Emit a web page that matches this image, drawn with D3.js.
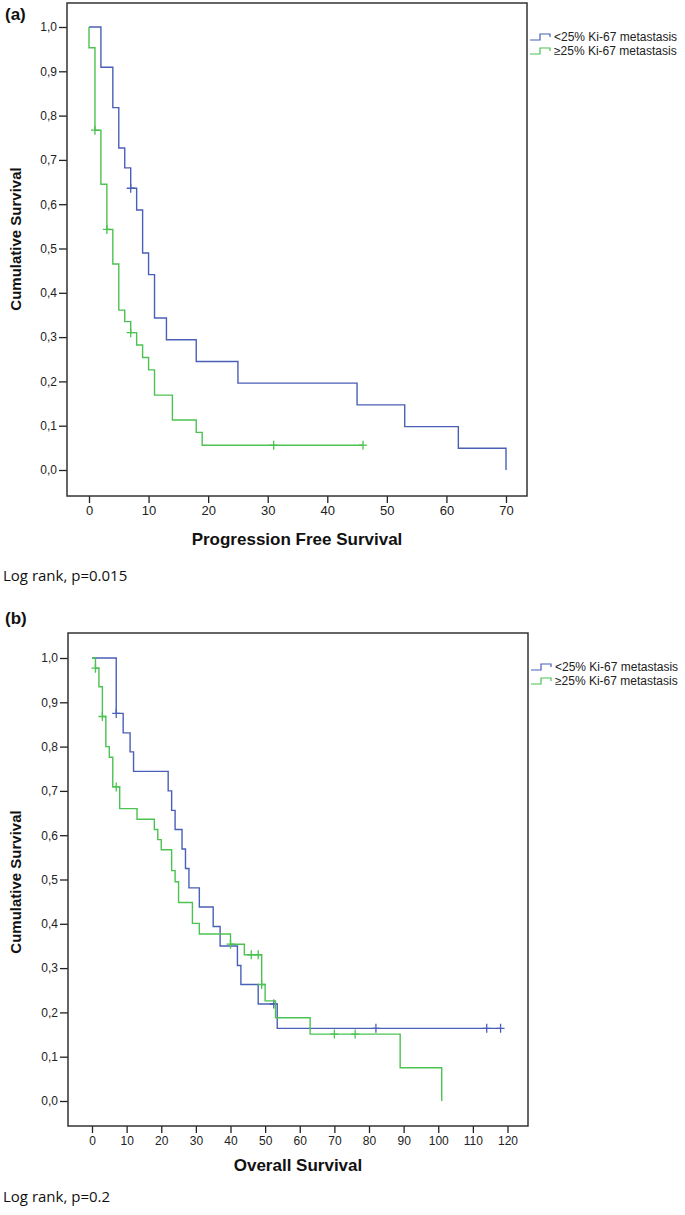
<!DOCTYPE html>
<html><head><meta charset="utf-8">
<script src="https://cdn.jsdelivr.net/npm/d3@7/dist/d3.min.js"></script>
<style>body{margin:0;background:#fff}svg{display:block}</style>
</head><body>
<svg id="chart" width="685" height="1215"></svg>
<script>
// ---------- data ----------
const seriesNames = ["<25% Ki-67 metastasis", "\u226525% Ki-67 metastasis"];
const seriesColors = ["#4a5fb8", "#4cc250"];

// (a) Progression Free Survival
const pfsLowTime  = [0, 2, 4, 5, 6, 7, 8, 9, 10, 11, 13, 18, 25, 45, 53, 62, 70];
const pfsLowSurv  = [1.0, 0.909, 0.818, 0.727, 0.682, 0.636, 0.587, 0.490, 0.441, 0.343, 0.294, 0.245, 0.196, 0.147, 0.098, 0.049, 0.0];
const pfsLowCensor = [7];
const pfsHighTime = [0, 0, 1, 2, 3, 4, 5, 6, 7, 8, 9, 10, 11, 14, 18, 19, 46];
const pfsHighSurv = [1.0, 0.953, 0.767, 0.645, 0.543, 0.465, 0.361, 0.335, 0.310, 0.282, 0.254, 0.226, 0.169, 0.113, 0.085, 0.056, 0.056];
const pfsHighCensor = [1, 3, 7, 31, 46];

// (b) Overall Survival
const osLowTime  = [0, 7, 9, 11, 12, 22, 23, 24, 26, 27, 28, 31, 35, 37, 42, 43, 48, 53.5, 118];
const osLowSurv  = [1.0, 0.875, 0.831, 0.788, 0.744, 0.700, 0.656, 0.613, 0.569, 0.525, 0.481, 0.438, 0.394, 0.350, 0.306, 0.263, 0.219, 0.164, 0.164];
const osLowCensor = [7, 52.5, 82, 114, 118];
const osHighTime = [0, 1, 2, 3, 4, 5, 6, 8, 13, 18, 19, 20, 23, 24, 25, 29, 31, 40, 44, 49, 50, 53, 63, 89, 101];
const osHighSurv = [1.0, 0.977, 0.935, 0.868, 0.800, 0.776, 0.709, 0.660, 0.636, 0.613, 0.590, 0.567, 0.520, 0.495, 0.448, 0.401, 0.377, 0.354, 0.330, 0.263, 0.226, 0.188, 0.151, 0.075, 0.0];
const osHighCensor = [1, 3, 7, 40, 46, 48, 49, 70, 76];

const yTickValues = [0, 0.1, 0.2, 0.3, 0.4, 0.5, 0.6, 0.7, 0.8, 0.9, 1.0];
const yTickLabels = ["0,0","0,1","0,2","0,3","0,4","0,5","0,6","0,7","0,8","0,9","1,0"];
const pfsXTicks = [0, 10, 20, 30, 40, 50, 60, 70];
const osXTicks  = [0, 10, 20, 30, 40, 50, 60, 70, 80, 90, 100, 110, 120];

// ---------- drawing ----------
const svg = d3.select("#chart");
const FONT = "Liberation Sans, Arial, sans-serif";

function survAt(times, survs, t) {
  let s = survs[0];
  for (let i = 0; i < times.length; i++) if (times[i] <= t) s = survs[i];
  return s;
}

function panel(o) {
  const g = svg.append("g");
  const x = d3.scaleLinear().domain(o.xDomain).range(o.xRange);
  const y = d3.scaleLinear().domain([0, 1]).range(o.yRange);
  const b = o.box;

  // y axis
  const ya = g.append("g").attr("transform", `translate(${b.left},0)`)
    .call(d3.axisLeft(y).tickValues(yTickValues).tickFormat((d, i) => yTickLabels[i]).tickSize(8).tickPadding(2));
  ya.select(".domain").remove();
  ya.selectAll("line").attr("stroke", "#222").attr("stroke-width", 1.3);
  ya.selectAll("text").attr("font-family", FONT).attr("font-size", 12).attr("fill", "#222");

  // x axis
  const xa = g.append("g").attr("transform", `translate(0,${b.bottom})`)
    .call(d3.axisBottom(x).tickValues(o.xTicks).tickFormat(d3.format("d")).tickSize(7).tickPadding(3));
  xa.select(".domain").remove();
  xa.selectAll("line").attr("stroke", "#222").attr("stroke-width", 1.3);
  xa.selectAll("text").attr("font-family", FONT).attr("font-size", o.xTickFont).attr("fill", "#222");

  // frame
  g.append("rect").attr("x", b.left).attr("y", b.top)
    .attr("width", b.right - b.left).attr("height", b.bottom - b.top)
    .attr("fill", "none").attr("stroke", "#333").attr("stroke-width", 1.5);

  const line = d3.line().x(d => x(d[0])).y(d => y(d[1])).curve(d3.curveStepAfter);
  o.series.forEach((s, i) => {
    const pts = s.time.map((t, k) => [t, s.surv[k]]);
    g.append("path").attr("d", line(pts)).attr("fill", "none")
      .attr("stroke", seriesColors[i]).attr("stroke-width", 1.4);
    g.selectAll(null).data(s.censor).enter().append("path")
      .attr("d", c => {
        const cx = x(c), cy = y(survAt(s.time, s.surv, c));
        return `M${cx - 4},${cy}h8M${cx},${cy - 4.5}v9`;
      })
      .attr("stroke", seriesColors[i]).attr("stroke-width", 1.3).attr("fill", "none");
  });

  // legend
  seriesNames.forEach((name, i) => {
    const ly = b.top + o.legendOffset + i * 14;
    const lx = b.right + 3;
    g.append("path")
      .attr("d", `M${lx},${ly + 3}h10v-6h10v3`)
      .attr("fill", "none").attr("stroke", seriesColors[i]).attr("stroke-width", 1.2);
    g.append("text").attr("x", lx + 24).attr("y", ly + 4)
      .attr("font-family", FONT).attr("font-size", 12).attr("fill", "#222").text(name);
  });

  // axis titles
  g.append("text").attr("transform", `translate(21,${o.yTitleY}) rotate(-90)`)
    .attr("text-anchor", "middle").attr("font-family", FONT).attr("font-weight", "bold")
    .attr("font-size", 15).attr("fill", "#111").text("Cumulative Survival");
  g.append("text").attr("x", (b.left + b.right) / 2).attr("y", o.xTitleY)
    .attr("text-anchor", "middle").attr("font-family", FONT).attr("font-weight", "bold")
    .attr("font-size", 17).attr("fill", "#111").text(o.xTitle);

  // panel label and footnote
  g.append("text").attr("x", 5).attr("y", o.labelY).attr("font-family", FONT)
    .attr("font-weight", "bold").attr("font-size", 17).attr("fill", "#111").text(o.label);
  g.append("text").attr("x", 3).attr("y", o.noteY).attr("font-family", "Open Sans, sans-serif")
    .attr("font-size", 15).attr("fill", "#111").text(o.note);
}

panel({
  box: {left: 67, top: 3, right: 527, bottom: 496},
  xDomain: [0, 70], xRange: [89, 506], yRange: [470, 27],
  xTicks: pfsXTicks, xTickFont: 13,
  series: [
    {time: pfsLowTime, surv: pfsLowSurv, censor: pfsLowCensor},
    {time: pfsHighTime, surv: pfsHighSurv, censor: pfsHighCensor}
  ],
  legendOffset: 34, yTitleY: 239, xTitleY: 545, xTitle: "Progression Free Survival",
  label: "(a)", labelY: 20, note: "Log rank, p=0.015", noteY: 581
});

panel({
  box: {left: 68, top: 633, right: 528, bottom: 1126},
  xDomain: [0, 120], xRange: [92, 507.5], yRange: [1101, 658],
  xTicks: osXTicks, xTickFont: 12,
  series: [
    {time: osLowTime, surv: osLowSurv, censor: osLowCensor},
    {time: osHighTime, surv: osHighSurv, censor: osHighCensor}
  ],
  legendOffset: 34, yTitleY: 882, xTitleY: 1171, xTitle: "Overall Survival",
  label: "(b)", labelY: 624, note: "Log rank, p=0.2", noteY: 1202
});
</script>
</body></html>
